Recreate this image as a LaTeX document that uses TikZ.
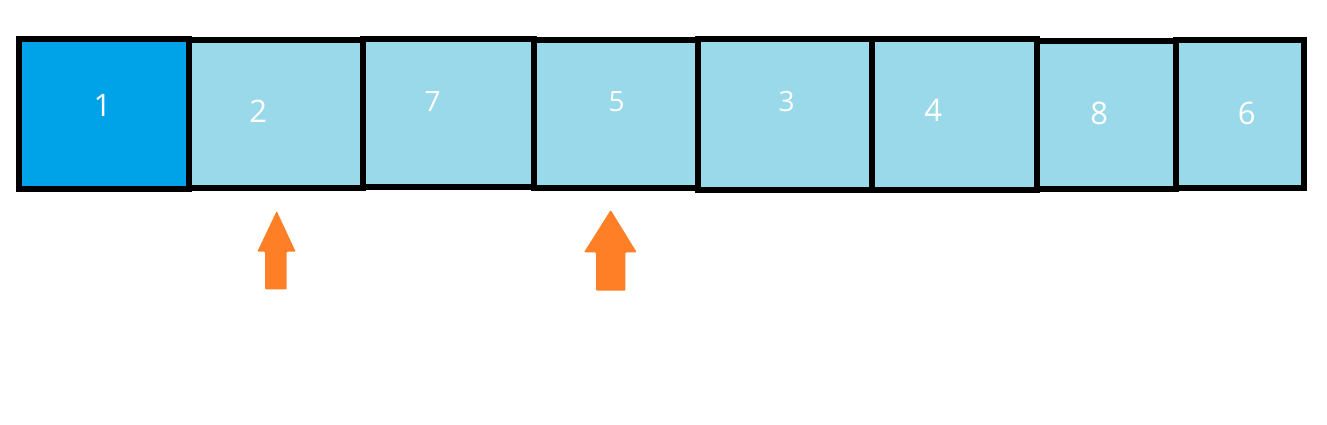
\documentclass[tikz,border=0pt]{standalone}
\usepackage{fontspec}
\setmainfont{Open Sans}
\definecolor{cellblue}{HTML}{99D9EA}
\definecolor{cellhi}{HTML}{00A2E8}
\definecolor{arroworange}{HTML}{FF7F27}
\begin{document}
\begin{tikzpicture}[x=1pt,y=-1pt,
  cell/.style={draw=black, line width=6pt, fill=cellblue, rectangle, inner sep=0pt, outer sep=0pt},
  digit/.style={text=white, font=\fontsize{31}{31}\selectfont, inner sep=0pt},
  digitsm/.style={text=white, font=\fontsize{28}{28}\selectfont, inner sep=0pt},
  marker/.style={fill=arroworange, draw=none, rounded corners=1pt}]
\useasboundingbox (0,0) rectangle (1327,424);
% cells (stroke-centre boxes)
\node[cell, fill=cellhi, minimum width=169.5pt, minimum height=150pt] (c1) at (103.75,114) {};
\node[cell, minimum width=174.5pt, minimum height=148.5pt] (c2) at (275.75,113.75) {};
\node[cell, minimum width=170.5pt, minimum height=148pt] (c3) at (448.25,113) {};
\node[cell, minimum width=164pt, minimum height=148pt] (c4) at (615.5,114) {};
\node[cell, minimum width=174pt, minimum height=150.5pt] (c5) at (784.5,114.25) {};
\node[cell, minimum width=165.5pt, minimum height=151pt] (c6) at (954.25,114) {};
\node[cell, minimum width=138.5pt, minimum height=148.2pt] (c7) at (1106.25,114.6) {};
\node[cell, minimum width=128pt, minimum height=148pt] (c8) at (1239.5,113.5) {};
% labels
\node[digit] (n1) at (102.5,105) {1};
\node[digit] (n2) at (258.3,110.8) {2};
\node[digitsm] (n3) at (432.7,101.7) {7};
\node[digitsm] (n4) at (616.7,101.7) {5};
\node[digitsm] (n5) at (786.7,101.7) {3};
\node[digit] (n6) at (933.3,110.8) {4};
\node[digit] (n7) at (1099.3,113.3) {8};
\node[digit] (n8) at (1246.7,113.3) {6};
% pointer arrows
\fill[marker] (265,289.3) -- (265,251.7) -- (257.3,251.7) -- (276.7,211) -- (295.7,251.7) -- (286.7,251.7) -- (286.7,289.3) -- cycle;
\fill[marker] (596,290.7) -- (596,252.3) -- (584,252.3) -- (610.7,210) -- (636.7,252.3) -- (625.3,252.3) -- (625.3,290.7) -- cycle;
\end{tikzpicture}
\end{document}
